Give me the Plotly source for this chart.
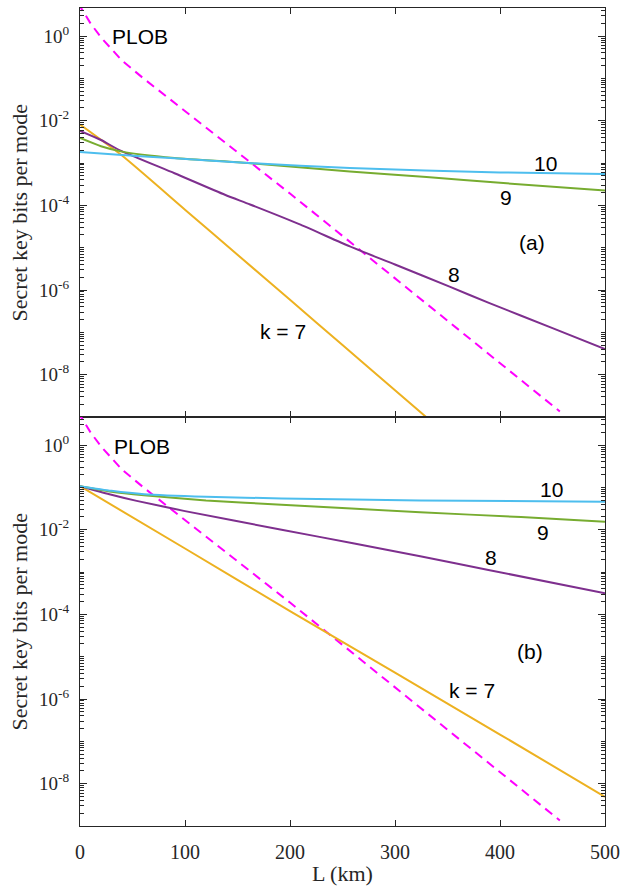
import plotly.graph_objects as go
from plotly.subplots import make_subplots

# ---------------- data ----------------
# Panel (a)
L_a_k7 = [0, 40, 100, 150, 200, 250, 300, 340]
a_k7 = [8.1e-3, 1.5e-3, 7.9e-5, 6.8e-6, 5.9e-7, 5.0e-8, 4.3e-9, 6.0e-10]

L_a_k8 = [0, 20, 38, 90, 138, 162, 210, 257, 300, 352, 390, 450, 500]
a_k8 = [5.75e-3, 3.5e-3, 2.0e-3, 5.75e-4, 1.78e-4, 1.05e-4, 3.5e-5, 1.07e-5,
        4.0e-6, 1.2e-6, 4.9e-7, 1.26e-7, 4.0e-8]

L_a_k9 = [0, 20, 40, 90, 160, 257, 330, 400, 500]
a_k9 = [3.9e-3, 2.5e-3, 1.86e-3, 1.32e-3, 1.0e-3, 6.3e-4, 4.7e-4, 3.4e-4, 2.24e-4]

L_a_k10 = [0, 40, 90, 160, 257, 400, 500]
a_k10 = [1.82e-3, 1.55e-3, 1.29e-3, 1.0e-3, 7.6e-4, 6.0e-4, 5.5e-4]

# Panel (b)
L_b_k7 = [0, 100, 200, 300, 400, 500]
b_k7 = [0.107, 3.6e-3, 1.2e-4, 4.2e-6, 1.45e-7, 4.9e-9]

L_b_k8 = [0, 28, 54, 100, 192, 260, 324, 389, 500]
b_k8 = [0.107, 0.069, 0.048, 0.0275, 0.010, 4.8e-3, 2.35e-3, 1.12e-3, 3.16e-4]

L_b_k9 = [0, 30, 61, 120, 192, 324, 420, 500]
b_k9 = [0.107, 0.079, 0.065, 0.049, 0.039, 0.0257, 0.020, 0.0155]

L_b_k10 = [0, 30, 61, 120, 192, 324, 500]
b_k10 = [0.107, 0.083, 0.069, 0.060, 0.055, 0.049, 0.0457]

# PLOB bound (same in both panels)
L_plob = [0, 1, 5, 10, 20, 40, 60, 80, 100, 150, 200, 250, 300, 350, 400, 457]
plob = [6.3, 4.6, 3.2, 2.0, 0.93, 0.263, 0.102, 0.0417, 0.0166, 1.78e-3,
        1.9e-4, 1.9e-5, 1.9e-6, 1.9e-7, 1.9e-8, 1.35e-9]

x_ticks = [0, 100, 200, 300, 400, 500]
y_major = [1e-8, 1e-6, 1e-4, 1e-2, 1]
y_major_text = ["10<sup>-8</sup>", "10<sup>-6</sup>", "10<sup>-4</sup>",
                "10<sup>-2</sup>", "10<sup>0</sup>"]

# ---------------- styling ----------------
C7, C8, C9, C10, CP = "#EDB120", "#7E2F8E", "#77AC30", "#4DBEEE", "#FF00FF"
AX = "#262626"
SERIF = "Liberation Serif"
SANS = "Liberation Sans"

fig = make_subplots(rows=2, cols=1, shared_xaxes=True, vertical_spacing=0)

panels = [
    (1, [(L_a_k7, a_k7, C7), (L_a_k8, a_k8, C8), (L_a_k9, a_k9, C9), (L_a_k10, a_k10, C10)]),
    (2, [(L_b_k7, b_k7, C7), (L_b_k8, b_k8, C8), (L_b_k9, b_k9, C9), (L_b_k10, b_k10, C10)]),
]
for row, series in panels:
    fig.add_trace(go.Scatter(x=L_plob, y=plob, mode="lines",
                             line=dict(color=CP, width=2, dash="9px,6px"),
                             showlegend=False), row=row, col=1)
    for xs, ys, c in series:
        fig.add_trace(go.Scatter(x=xs, y=ys, mode="lines",
                                 line=dict(color=c, width=2, shape="spline", smoothing=0.6),
                                 showlegend=False), row=row, col=1)

minor_vals = []
for e in range(-10, 1):
    for m in range(1, 10):
        if m == 1 and e % 2 == 0:
            continue
        minor_vals.append(m * 10.0 ** e)

axis_common = dict(showline=True, linecolor=AX, linewidth=1, mirror="allticks",
                   ticks="inside", tickcolor=AX, tickwidth=1, showgrid=False,
                   zeroline=False, automargin=False)

for r in (1, 2):
    fig.update_xaxes(range=[0, 500], tickmode="array", tickvals=x_ticks,
                     ticklen=6, showticklabels=(r == 2),
                     tickfont=dict(family=SERIF, size=20, color=AX),
                     ticklabelstandoff=8,
                     row=r, col=1, **axis_common)
    fig.update_yaxes(type="log", range=[-9, 0.663], tickmode="array",
                     tickvals=y_major, ticktext=y_major_text, ticklen=7,
                     tickfont=dict(family=SERIF, size=19, color=AX),
                     ticklabelstandoff=6,
                     minor=dict(tickmode="array", tickvals=minor_vals,
                                ticklen=4, ticks="inside", tickcolor=AX,
                                showgrid=False),
                     row=r, col=1, **axis_common)

# panel labels (positions in data coords; y in log10 units)
labels_a = [("PLOB", 57.6, 0.0), ("k = 7", 193.3, -6.99), ("10", 442.9, -3.0),
            ("9", 405.7, -3.81), ("(a)", 430.2, -4.87), ("8", 356.2, -5.63)]
labels_b = [("PLOB", 58.6, -0.04), ("10", 448.6, -1.04), ("9", 440.5, -2.07),
            ("8", 391.4, -2.65), ("(b)", 428.6, -4.87), ("k = 7", 373.3, -5.79)]
for (xr, yr), labs in ((("x", "y"), labels_a), (("x2", "y2"), labels_b)):
    for t, lx, ly in labs:
        fig.add_annotation(text=t, x=lx, y=ly, xref=xr, yref=yr, showarrow=False,
                           font=dict(family=SANS, size=21, color="black"),
                           xanchor="center", yanchor="middle")

for yc in (0.75, 0.25):
    fig.add_annotation(text="Secret key bits per mode", xref="paper", yref="paper",
                       x=-0.1143, y=yc, textangle=-90, showarrow=False,
                       font=dict(family=SERIF, size=22, color=AX),
                       xanchor="center", yanchor="middle")
fig.add_annotation(text="L (km)", xref="paper", yref="paper", x=0.5, y=-0.0575,
                   showarrow=False, font=dict(family=SERIF, size=22, color=AX),
                   xanchor="center", yanchor="middle")

fig.update_layout(width=623, height=888, autosize=False,
                  margin=dict(l=80, r=18, t=8, b=62),
                  plot_bgcolor="white", paper_bgcolor="white")

# remove the default page margin so the figure fills the window exactly
fig.write_html("out.html", config={"displayModeBar": False},
               post_script="document.body.style.margin='0';"
                           "document.body.style.overflow='hidden';")
